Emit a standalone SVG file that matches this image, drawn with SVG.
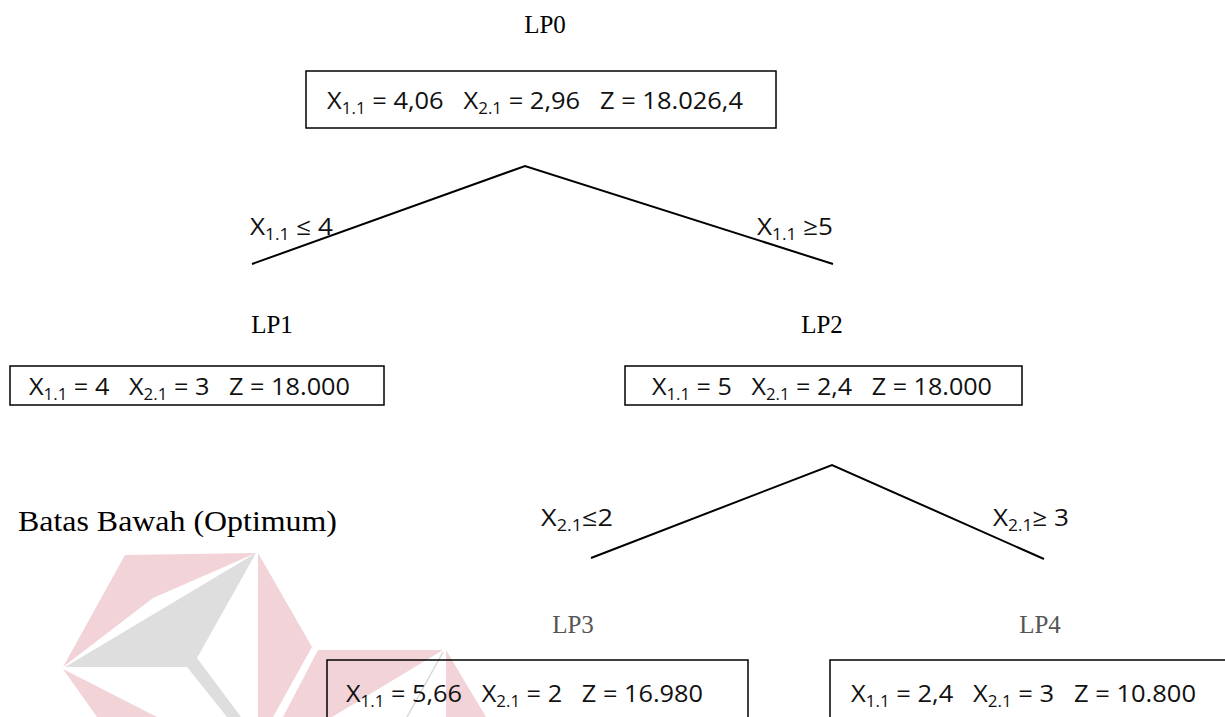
<svg xmlns="http://www.w3.org/2000/svg" width="1225" height="717" viewBox="0 0 1225 717">
<style>
.lp{font-family:"Liberation Serif","Times New Roman",serif;font-size:25px;fill:#000}
.lpg{font-family:"Liberation Serif","Times New Roman",serif;font-size:25px;fill:#555}
.bx{fill:none;stroke:#000;stroke-width:1.5}
.t{font-family:"Open Sans","Liberation Sans",sans-serif;font-size:24px;fill:#111}
.lb{font-family:"Open Sans","Liberation Sans",sans-serif;font-size:24px;fill:#111}
.s{font-size:16px}
.ln{stroke:#000;stroke-width:2;fill:none}
.wp{fill:#f2d3d7}
.wg{fill:#dedede}
</style>
<g id="watermark">
<polygon class="wp" points="125,555 256,553 153,598 63,667"/>
<polygon class="wg" points="256,553 65,667 187,667 227,717 241,717 197,658"/>
<polygon class="wp" points="258,553 312,647 273,717 258,717"/>
<polygon class="wp" points="63,669 157,717 97,717"/>
<polygon class="wp" points="318,650 443,650 332,717 283,717"/>
<polygon class="wp" points="446,650 486,717 446,717"/>
<line x1="443" y1="652" x2="407" y2="717" stroke="#d8d8d8" stroke-width="1.5"/>
</g>
<g id="connectors">
<polyline class="ln" points="252,264 525,166 833,264"/>
<polyline class="ln" points="591,558 832,465 1044,559"/>
</g>
<g id="edge-labels">
<text class="lb" x="250" y="235" textLength="83" lengthAdjust="spacingAndGlyphs">X<tspan class="s" dy="5">1.1</tspan><tspan dy="-5"> ≤ 4</tspan></text>
<text class="lb" x="757" y="235" textLength="76" lengthAdjust="spacingAndGlyphs">X<tspan class="s" dy="5">1.1</tspan><tspan dy="-5"> ≥5</tspan></text>
<text class="lb" x="541" y="526" textLength="72" lengthAdjust="spacingAndGlyphs">X<tspan class="s" dy="5">2.1</tspan><tspan dy="-5">≤2</tspan></text>
<text class="lb" x="993" y="526" textLength="76" lengthAdjust="spacingAndGlyphs">X<tspan class="s" dy="5">2.1</tspan><tspan dy="-5">≥ 3</tspan></text>
</g>
<g id="lp0">
<text class="lp" x="545" y="33" text-anchor="middle">LP0</text>
<rect class="bx" x="306" y="71" width="470" height="57"/>
<text class="t" x="327" y="109" xml:space="preserve" textLength="416" lengthAdjust="spacingAndGlyphs">X<tspan class="s" dy="5">1.1</tspan><tspan dy="-5"> = 4,06   X</tspan><tspan class="s" dy="5">2.1</tspan><tspan dy="-5"> = 2,96   Z = 18.026,4</tspan></text>
</g>
<g id="lp1">
<text class="lp" x="272" y="333" text-anchor="middle">LP1</text>
<rect class="bx" x="10" y="366" width="374" height="39"/>
<text class="t" x="29" y="395" xml:space="preserve" textLength="321" lengthAdjust="spacingAndGlyphs">X<tspan class="s" dy="5">1.1</tspan><tspan dy="-5"> = 4   X</tspan><tspan class="s" dy="5">2.1</tspan><tspan dy="-5"> = 3   Z = 18.000</tspan></text>
</g>
<g id="lp2">
<text class="lp" x="822" y="333" text-anchor="middle">LP2</text>
<rect class="bx" x="625" y="366" width="397" height="39"/>
<text class="t" x="652" y="395" xml:space="preserve" textLength="340" lengthAdjust="spacingAndGlyphs">X<tspan class="s" dy="5">1.1</tspan><tspan dy="-5"> = 5   X</tspan><tspan class="s" dy="5">2.1</tspan><tspan dy="-5"> = 2,4   Z = 18.000</tspan></text>
</g>
<g id="batas">
<text class="lp" x="18" y="531" style="font-size:30px" textLength="319" lengthAdjust="spacingAndGlyphs">Batas Bawah (Optimum)</text>
</g>
<g id="lp3">
<text class="lpg" x="573" y="633" text-anchor="middle">LP3</text>
<rect class="bx" x="327" y="660" width="421" height="70"/>
<text class="t" x="346" y="702" xml:space="preserve" textLength="357" lengthAdjust="spacingAndGlyphs">X<tspan class="s" dy="5">1.1</tspan><tspan dy="-5"> = 5,66   X</tspan><tspan class="s" dy="5">2.1</tspan><tspan dy="-5"> = 2   Z = 16.980</tspan></text>
</g>
<g id="lp4">
<text class="lpg" x="1040" y="633" text-anchor="middle">LP4</text>
<rect class="bx" x="830" y="660" width="420" height="70"/>
<text class="t" x="851" y="702" xml:space="preserve" textLength="345" lengthAdjust="spacingAndGlyphs">X<tspan class="s" dy="5">1.1</tspan><tspan dy="-5"> = 2,4   X</tspan><tspan class="s" dy="5">2.1</tspan><tspan dy="-5"> = 3   Z = 10.800</tspan></text>
</g>
</svg>
